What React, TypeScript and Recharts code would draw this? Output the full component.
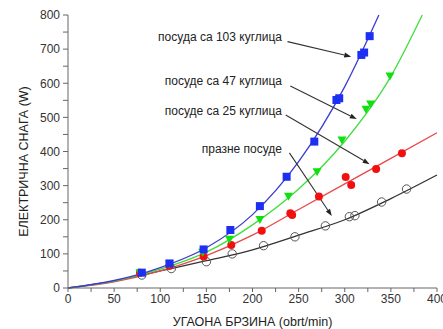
import {
  ComposedChart,
  Line,
  Scatter,
  XAxis,
  YAxis,
  Label,
  ReferenceLine,
  ReferenceDot,
} from 'recharts';

// measured points (speed obrt/min, power W)
const blueDots = [
  { x: 80, y: 45 }, { x: 110, y: 72 }, { x: 147, y: 113 }, { x: 176, y: 170 },
  { x: 208, y: 240 }, { x: 237, y: 326 }, { x: 267, y: 429 }, { x: 291, y: 551 },
  { x: 294, y: 556 }, { x: 318, y: 683 }, { x: 321, y: 690 }, { x: 327, y: 738 },
];
const greenDots = [
  { x: 78, y: 45 }, { x: 110, y: 70 }, { x: 146, y: 105 }, { x: 175, y: 143 },
  { x: 208, y: 201 }, { x: 239, y: 269 }, { x: 270, y: 341 }, { x: 297, y: 434 },
  { x: 323, y: 524 }, { x: 328, y: 539 }, { x: 349, y: 621 },
];
const redDots = [
  { x: 78, y: 45 }, { x: 110, y: 65 }, { x: 147, y: 92 }, { x: 177, y: 126 },
  { x: 210, y: 168 }, { x: 241, y: 219 }, { x: 243, y: 214 }, { x: 272, y: 268 },
  { x: 301, y: 325 }, { x: 307, y: 302 }, { x: 334, y: 349 }, { x: 362, y: 395 },
];
const blackDots = [
  { x: 80, y: 38 }, { x: 112, y: 57 }, { x: 150, y: 77 }, { x: 178, y: 100 },
  { x: 212, y: 124 }, { x: 246, y: 150 }, { x: 279, y: 182 }, { x: 305, y: 209 },
  { x: 311, y: 212 }, { x: 340, y: 252 }, { x: 367, y: 290 },
];

// fitted curves
const blueFit = [
  { x: 0, y: 0 }, { x: 50, y: 22 }, { x: 100, y: 60 }, { x: 150, y: 118 },
  { x: 200, y: 215 }, { x: 250, y: 370 }, { x: 300, y: 590 }, { x: 337, y: 800 },
];
const greenFit = [
  { x: 0, y: 0 }, { x: 50, y: 20 }, { x: 100, y: 55 }, { x: 150, y: 105 },
  { x: 200, y: 185 }, { x: 250, y: 290 }, { x: 300, y: 430 }, { x: 350, y: 620 },
  { x: 384, y: 800 },
];
const redFit = [
  { x: 0, y: 0 }, { x: 50, y: 18 }, { x: 100, y: 50 }, { x: 150, y: 95 },
  { x: 200, y: 155 }, { x: 250, y: 230 }, { x: 300, y: 305 }, { x: 350, y: 380 },
  { x: 400, y: 455 },
];
const blackFit = [
  { x: 0, y: 0 }, { x: 50, y: 20 }, { x: 100, y: 50 }, { x: 150, y: 80 },
  { x: 200, y: 112 }, { x: 250, y: 155 }, { x: 300, y: 200 }, { x: 350, y: 262 },
  { x: 400, y: 331 },
];

const xTicks = [0, 25, 50, 75, 100, 125, 150, 175, 200, 225, 250, 275, 300, 325, 350, 375, 400];
const yTicks = [0, 50, 100, 150, 200, 250, 300, 350, 400, 450, 500, 550, 600, 650, 700, 750, 800];

// annotation texts with label anchor and arrow segment
const notes = [
  { text: 'посуда са 103 куглица', lx: 232, ly: 733, from: { x: 238, y: 722 }, to: { x: 307, y: 678 } },
  { text: 'посуде са 47 куглица', lx: 232, ly: 604, from: { x: 241, y: 592 }, to: { x: 313, y: 495 } },
  { text: 'посуде са 25 куглица', lx: 232, ly: 516, from: { x: 236, y: 507 }, to: { x: 327, y: 363 } },
  { text: 'празне посуде', lx: 232, ly: 404, from: { x: 240, y: 396 }, to: { x: 286, y: 211 } },
];

const font = 'Arial, "Liberation Sans", sans-serif';
const axisColor = '#666';

const Square = (p: any) => (
  <rect x={p.cx - 4} y={p.cy - 4} width={8} height={8} fill="#1d2ff0" />
);
const DownTri = (p: any) => (
  <polygon
    points={`${p.cx - 4.5},${p.cy - 3.5} ${p.cx + 4.5},${p.cy - 3.5} ${p.cx},${p.cy + 4.5}`}
    fill="#10e010"
  />
);
const RedDot = (p: any) => <circle cx={p.cx} cy={p.cy} r={4} fill="#f01010" />;
const OpenDot = (p: any) => (
  <circle cx={p.cx} cy={p.cy} r={4.2} fill="none" stroke="#555" strokeWidth={1} />
);

const Arrow = (p: any) => {
  const { x1, y1, x2, y2 } = p;
  const a = Math.atan2(y2 - y1, x2 - x1);
  const len = 7;
  const w = 2.5;
  const bx = x2 - len * Math.cos(a);
  const by = y2 - len * Math.sin(a);
  const px = -Math.sin(a) * w;
  const py = Math.cos(a) * w;
  return (
    <g>
      <line x1={x1} y1={y1} x2={bx} y2={by} stroke="#333" strokeWidth={1.1} />
      <polygon points={`${x2},${y2} ${bx + px},${by + py} ${bx - px},${by - py}`} fill="#222" />
    </g>
  );
};

const NoteText = (text: string) => (p: any) => (
  <text
    x={p.cx}
    y={p.cy}
    textAnchor="end"
    dominantBaseline="middle"
    fontSize={12}
    fontFamily={font}
    fill="#222"
  >
    {text}
  </text>
);

const YTitle = (props: any) => {
  const vb = props.viewBox;
  const cx = vb.x + 25;
  const cy = vb.y + vb.height / 2 + 10;
  return (
    <text
      x={cx}
      y={cy}
      transform={`rotate(-90 ${cx} ${cy})`}
      textAnchor="middle"
      dominantBaseline="middle"
      fontSize={12.5}
      fontFamily={font}
      fill="#222"
    >
      ЕЛЕКТРИЧНА СНАГА (W)
    </text>
  );
};

export default function App() {
  return (
    <div style={{ position: 'absolute', left: 0, top: 0, background: '#fff' }}>
      <ComposedChart
        width={443}
        height={329}
        margin={{ top: 15, right: 6, bottom: 0, left: 0 }}
      >
        <XAxis
          xAxisId="b"
          type="number"
          dataKey="x"
          domain={[0, 400]}
          ticks={xTicks}
          interval={0}
          height={41}
          stroke={axisColor}
          tickSize={4}
          tickMargin={2}
          tick={{ fontSize: 12, fontFamily: font, fill: '#333' }}
          tickFormatter={(v: number) => (v % 50 === 0 ? String(v) : '')}
        >
          <Label
            value="УГАОНА БРЗИНА (obrt/min)"
            position="insideBottom"
            offset={3}
            style={{ fontSize: 12.5, fontFamily: font, fill: '#222' }}
          />
        </XAxis>
        <XAxis
          xAxisId="t"
          orientation="top"
          type="number"
          dataKey="x"
          domain={[0, 400]}
          ticks={xTicks}
          interval={0}
          height={0}
          mirror
          tick={false}
          tickSize={4}
          stroke={axisColor}
        />
        <YAxis
          yAxisId="l"
          type="number"
          domain={[0, 800]}
          ticks={yTicks}
          interval={0}
          width={68}
          stroke={axisColor}
          tickSize={5}
          tickMargin={3}
          tick={{ fontSize: 12, fontFamily: font, fill: '#333' }}
          tickFormatter={(v: number) => (v % 100 === 0 ? String(v) : '')}
        >
          <Label content={YTitle} />
        </YAxis>
        <YAxis
          yAxisId="r"
          orientation="right"
          type="number"
          domain={[0, 800]}
          ticks={yTicks}
          interval={0}
          width={0}
          mirror
          tick={false}
          tickSize={4}
          stroke={axisColor}
        />

        <Line xAxisId="b" yAxisId="l" data={blackFit} dataKey="y" type="monotone"
          stroke="#333" strokeWidth={1.3} dot={false} isAnimationActive={false} />
        <Line xAxisId="b" yAxisId="l" data={redFit} dataKey="y" type="monotone"
          stroke="#e84848" strokeWidth={1.3} dot={false} isAnimationActive={false} />
        <Line xAxisId="b" yAxisId="l" data={greenFit} dataKey="y" type="monotone"
          stroke="#40dd40" strokeWidth={1.3} dot={false} isAnimationActive={false} />
        <Line xAxisId="b" yAxisId="l" data={blueFit} dataKey="y" type="monotone"
          stroke="#3c3cd0" strokeWidth={1.3} dot={false} isAnimationActive={false} />

        <Scatter xAxisId="b" yAxisId="l" data={blackDots} dataKey="y" shape={OpenDot} isAnimationActive={false} />
        <Scatter xAxisId="b" yAxisId="l" data={redDots} dataKey="y" shape={RedDot} isAnimationActive={false} />
        <Scatter xAxisId="b" yAxisId="l" data={greenDots} dataKey="y" shape={DownTri} isAnimationActive={false} />
        <Scatter xAxisId="b" yAxisId="l" data={blueDots} dataKey="y" shape={Square} isAnimationActive={false} />

        {notes.map((n) => (
          <ReferenceLine
            key={'a' + n.text}
            xAxisId="b"
            yAxisId="l"
            segment={[n.from, n.to]}
            shape={Arrow}
            ifOverflow="visible"
          />
        ))}
        {notes.map((n) => (
          <ReferenceDot
            key={'t' + n.text}
            xAxisId="b"
            yAxisId="l"
            x={n.lx}
            y={n.ly}
            r={1}
            shape={NoteText(n.text)}
            ifOverflow="visible"
          />
        ))}
      </ComposedChart>
    </div>
  );
}
